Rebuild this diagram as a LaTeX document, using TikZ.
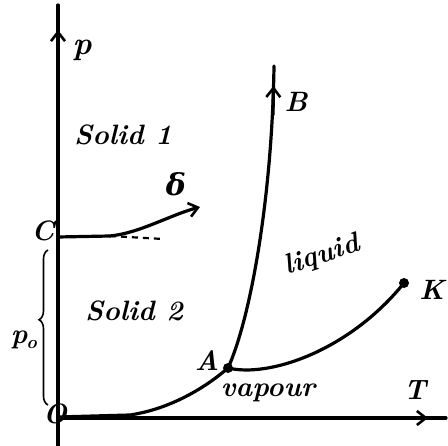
\documentclass[tikz,border=0pt]{standalone}
\usepackage{fontspec}
\newfontfamily\dejaserif{DejaVu Serif}
\usetikzlibrary{arrows.meta,decorations.pathreplacing}
\begin{document}
\begin{tikzpicture}[x=1pt,y=-1pt,
  ln/.style={line width=3.2pt,line cap=round},
  tip/.style={-{Straight Barb[length=9pt,width=14pt,line width=2.6pt]}},
  lbl/.style={font=\fontsize{28}{30}\selectfont\itshape\bfseries,inner sep=0pt},
  big/.style={font=\fontsize{32}{34}\selectfont\itshape\bfseries,inner sep=0pt},
  dot/.style={circle,fill=black,inner sep=0pt,minimum size=10pt}]
\useasboundingbox (0,0) rectangle (448,446);
% axes
\coordinate (pbot) at (58,446);
\coordinate (ptop) at (58,5);
\coordinate (parr) at (58,30);
\coordinate (tl) at (58,418);
\coordinate (tr) at (446,418);
\coordinate (tarr) at (428,418);
\draw[ln] (pbot) -- (ptop);
\draw[ln,tip] (58,60) -- (parr);
\draw[ln] (tl) -- (tr);
\draw[ln,tip] (400,418) -- (tarr);
% points
\node[dot] (A) at (228,368) {};
\node[dot] (K) at (404,283) {};
\coordinate (O) at (58,417);
\coordinate (C) at (58,237);
\coordinate (Btop) at (274,66);
\coordinate (Barr) at (273.5,86);
\coordinate (Cend) at (110,236);
\coordinate (Cdash) at (163,239);
\coordinate (Dtip) at (200,207);
% curves
\draw[ln] (O) -- (130,415) .. controls (170,409) and (205,388) .. (A.center);
\draw[ln] (A.center) .. controls (250,320) and (272,200) .. (Btop);
\draw[ln,tip] (273,115) -- (Barr);
\draw[ln] (A.center) .. controls (270,378) and (350,350) .. (K.center);
\draw[ln] (C) -- (Cend);
\draw[line width=2.2pt,dash pattern=on 6pt off 5pt] (Cend) -- (Cdash);
\draw[ln,tip] (Cend) .. controls (140,233) and (170,215) .. (Dtip);
% brace
\coordinate (br1) at (48,405);
\coordinate (br2) at (48,250);
\draw[line width=1.6pt,decorate,decoration={brace,amplitude=9pt,aspect=0.55}] (br1) -- (br2);
% labels
\node[big] (lp) at (82,50) {p};
\node[lbl] (lB) at (296,102) {B};
\node[lbl] (lC) at (43,231) {C};
\node[lbl] (lO) at (55,414) {O};
\node[lbl] (lA) at (207,361) {A};
\node[lbl] (lK) at (432,290) {K};
\node[lbl] (lT) at (415,390) {T};
\node[font=\fontsize{30}{32}\selectfont\dejaserif\bfseries\itshape,inner sep=0pt] (ldelta) at (176,184) {δ};
\node[lbl] (lpo) at (24,340) {p\kern-1pt\raisebox{-5pt}{\fontsize{18}{20}\selectfont o}};
\node[lbl] (s1) at (123,135) {Solid 1};
\node[lbl] (s2) at (134,311) {Solid 2};
\node[lbl,rotate=18] (liq) at (322,256) {liquid};
\node[lbl] (vap) at (268,393) {vapour};
\end{tikzpicture}
\end{document}
